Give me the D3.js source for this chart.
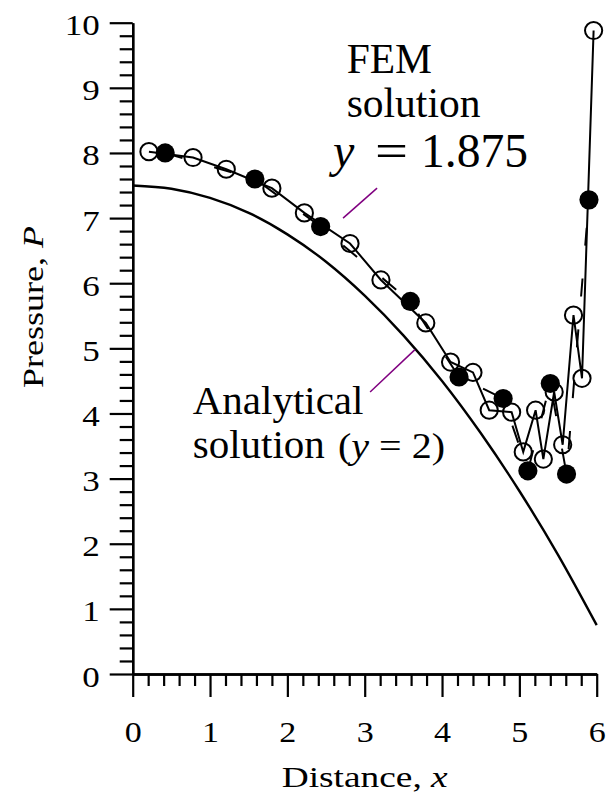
<!DOCTYPE html>
<html>
<head>
<meta charset="utf-8">
<script src="https://cdn.jsdelivr.net/npm/d3@7"></script>
<style>
  html, body { margin: 0; padding: 0; background: #fff; }
  svg { display: block; }
  text { font-family: "Liberation Serif", "Times New Roman", serif; fill: #000; }
</style>
</head>
<body>
<svg id="chart" width="607" height="793"></svg>
<script>
// Axis ticks
const xMajorTicks = [0, 1, 2, 3, 4, 5, 6];
const yMajorTicks = [0, 1, 2, 3, 4, 5, 6, 7, 8, 9, 10];

// Analytical solution along y = 2
const analyticX = [0, 0.5, 1, 1.5, 2, 2.5, 3, 3.5, 4, 4.5, 5, 5.5, 6];
const analyticP = [7.5, 7.45, 7.31, 7.08, 6.75, 6.33, 5.81, 5.2, 4.5, 3.7, 2.81, 1.83, 0.75];

// FEM solution at y = 1.875, open-circle nodes (solid line)
const openX = [0.21, 0.78, 1.21, 1.80, 2.22, 2.81, 3.21, 3.79, 4.11, 4.40, 4.61, 4.90, 5.05, 5.21, 5.31, 5.45, 5.56, 5.70, 5.81, 5.96];
const openP = [8.02, 7.93, 7.75, 7.46, 7.08, 6.61, 6.05, 5.39, 4.79, 4.63, 4.05, 4.02, 3.41, 4.05, 3.30, 4.33, 3.52, 5.51, 4.54, 9.88];

// FEM solution, filled-circle nodes (dashed line)
const filledX = [0.42, 1.58, 2.43, 3.59, 4.22, 4.79, 5.11, 5.40, 5.61, 5.90];
const filledP = [8.00, 7.60, 6.87, 5.72, 4.56, 4.23, 3.12, 4.46, 3.07, 7.28];

// Leader lines from the labels to the curves (data coordinates)
const femLeaderX = [2.72, 3.16];
const femLeaderP = [7.00, 7.46];
const analyticLeaderX = [3.07, 3.65];
const analyticLeaderP = [4.33, 4.98];

const svg = d3.select("#chart");
const x = d3.scaleLinear().domain([0, 6]).range([132.7, 596.7]);
const y = d3.scaleLinear().domain([0, 10]).range([674, 22.7]);

const zip = (xs, ys) => xs.map((v, i) => [v, ys[i]]);
const line = d3.line().x(d => x(d[0])).y(d => y(d[1]));

// Analytical curve
svg.append("path")
  .datum(zip(analyticX, analyticP))
  .attr("d", line.curve(d3.curveMonotoneX))
  .attr("fill", "none").attr("stroke", "#000").attr("stroke-width", 2.4);

line.curve(d3.curveLinear);

// FEM lines
svg.append("path")
  .datum(zip(openX, openP))
  .attr("d", line)
  .attr("fill", "none").attr("stroke", "#000").attr("stroke-width", 2);

svg.append("path")
  .datum(zip(filledX, filledP))
  .attr("d", line)
  .attr("fill", "none").attr("stroke", "#000").attr("stroke-width", 2)
  .attr("stroke-dasharray", "18,33");

// Markers
svg.append("g").selectAll("circle")
  .data(zip(openX, openP))
  .join("circle")
  .attr("cx", d => x(d[0])).attr("cy", d => y(d[1])).attr("r", 8.6)
  .attr("fill", "none").attr("stroke", "#000").attr("stroke-width", 2);

svg.append("g").selectAll("circle")
  .data(zip(filledX, filledP))
  .join("circle")
  .attr("cx", d => x(d[0])).attr("cy", d => y(d[1])).attr("r", 9.6)
  .attr("fill", "#000");

// Leader lines
[[femLeaderX, femLeaderP], [analyticLeaderX, analyticLeaderP]].forEach(([lx, lp]) => {
  svg.append("path")
    .datum(zip(lx, lp))
    .attr("d", line)
    .attr("fill", "none").attr("stroke", "#800080").attr("stroke-width", 1.5);
});

// Axes: minor ticks every 0.2, major every 1
const xMinor = d3.range(0, 30.5).map(i => i / 5).filter(v => Math.abs(v - Math.round(v)) > 1e-6);
const yMinor = d3.range(0, 50.5).map(i => i / 5).filter(v => Math.abs(v - Math.round(v)) > 1e-6);

function styleAxis(g) {
  g.selectAll("path.domain").attr("stroke", "#000").attr("stroke-width", 2.4);
  g.selectAll(".tick line").attr("stroke", "#000").attr("stroke-width", 2.2);
}

svg.append("g")
  .attr("transform", `translate(0,${y(0)})`)
  .call(d3.axisBottom(x).tickValues(xMinor).tickSize(12).tickSizeOuter(0).tickFormat(""))
  .call(styleAxis);

svg.append("g")
  .attr("transform", `translate(${x(0)},0)`)
  .call(d3.axisLeft(y).tickValues(yMinor).tickSize(13).tickSizeOuter(0).tickFormat(""))
  .call(styleAxis);

const xAxis = svg.append("g")
  .attr("transform", `translate(0,${y(0)})`)
  .call(d3.axisBottom(x).tickValues(xMajorTicks).tickSize(23).tickPadding(24).tickSizeOuter(0).tickFormat(d3.format("d")))
  .call(styleAxis);
xAxis.selectAll("text")
  .attr("font-family", "Liberation Serif").attr("font-size", 30).attr("fill", "#000")
  .attr("textLength", 17).attr("lengthAdjust", "spacingAndGlyphs");

const yAxis = svg.append("g")
  .attr("transform", `translate(${x(0)},0)`)
  .call(d3.axisLeft(y).tickValues(yMajorTicks).tickSize(23).tickPadding(10).tickSizeOuter(0).tickFormat(d3.format("d")))
  .call(styleAxis);
yAxis.selectAll("text")
  .attr("font-family", "Liberation Serif").attr("font-size", 30).attr("fill", "#000")
  .attr("dy", "0.4em")
  .attr("textLength", d => String(d).length * 17.5).attr("lengthAdjust", "spacingAndGlyphs");

// Axis titles
const xTitle = svg.append("text")
  .attr("x", 281.7).attr("y", 787)
  .attr("font-size", 30)
  .attr("textLength", 166).attr("lengthAdjust", "spacingAndGlyphs");
xTitle.append("tspan").text("Distance, ");
xTitle.append("tspan").attr("font-style", "italic").text("x");

const yTitle = svg.append("text")
  .attr("transform", "translate(43,388) rotate(-90)")
  .attr("font-size", 30)
  .attr("textLength", 162).attr("lengthAdjust", "spacingAndGlyphs");
yTitle.append("tspan").text("Pressure, ");
yTitle.append("tspan").attr("font-style", "italic").text("P");

// FEM label
svg.append("text").attr("x", 346.7).attr("y", 72.7).attr("font-size", 41.5).text("FEM");
svg.append("text").attr("x", 346.7).attr("y", 116.7).attr("font-size", 41.5).text("solution");
svg.append("text").attr("x", 333).attr("y", 166.7).attr("font-size", 48).attr("font-style", "italic").text("y");
svg.append("text").attr("x", 375).attr("y", 166.7).attr("font-size", 48)
  .attr("textLength", 33).attr("lengthAdjust", "spacingAndGlyphs").text("=");
svg.append("text").attr("x", 421).attr("y", 166.7).attr("font-size", 48)
  .attr("textLength", 107).attr("lengthAdjust", "spacingAndGlyphs").text("1.875");

// Analytical label
svg.append("text").attr("x", 192.7).attr("y", 414).attr("font-size", 41).text("Analytical");
svg.append("text").attr("x", 192.7).attr("y", 458.3).attr("font-size", 41).text("solution");
const paren = svg.append("text").attr("x", 338).attr("y", 458.3).attr("font-size", 35)
  .attr("textLength", 107).attr("lengthAdjust", "spacingAndGlyphs");
paren.append("tspan").text("(");
paren.append("tspan").attr("font-style", "italic").text("y");
paren.append("tspan").text(" = 2)");
</script>
</body>
</html>
